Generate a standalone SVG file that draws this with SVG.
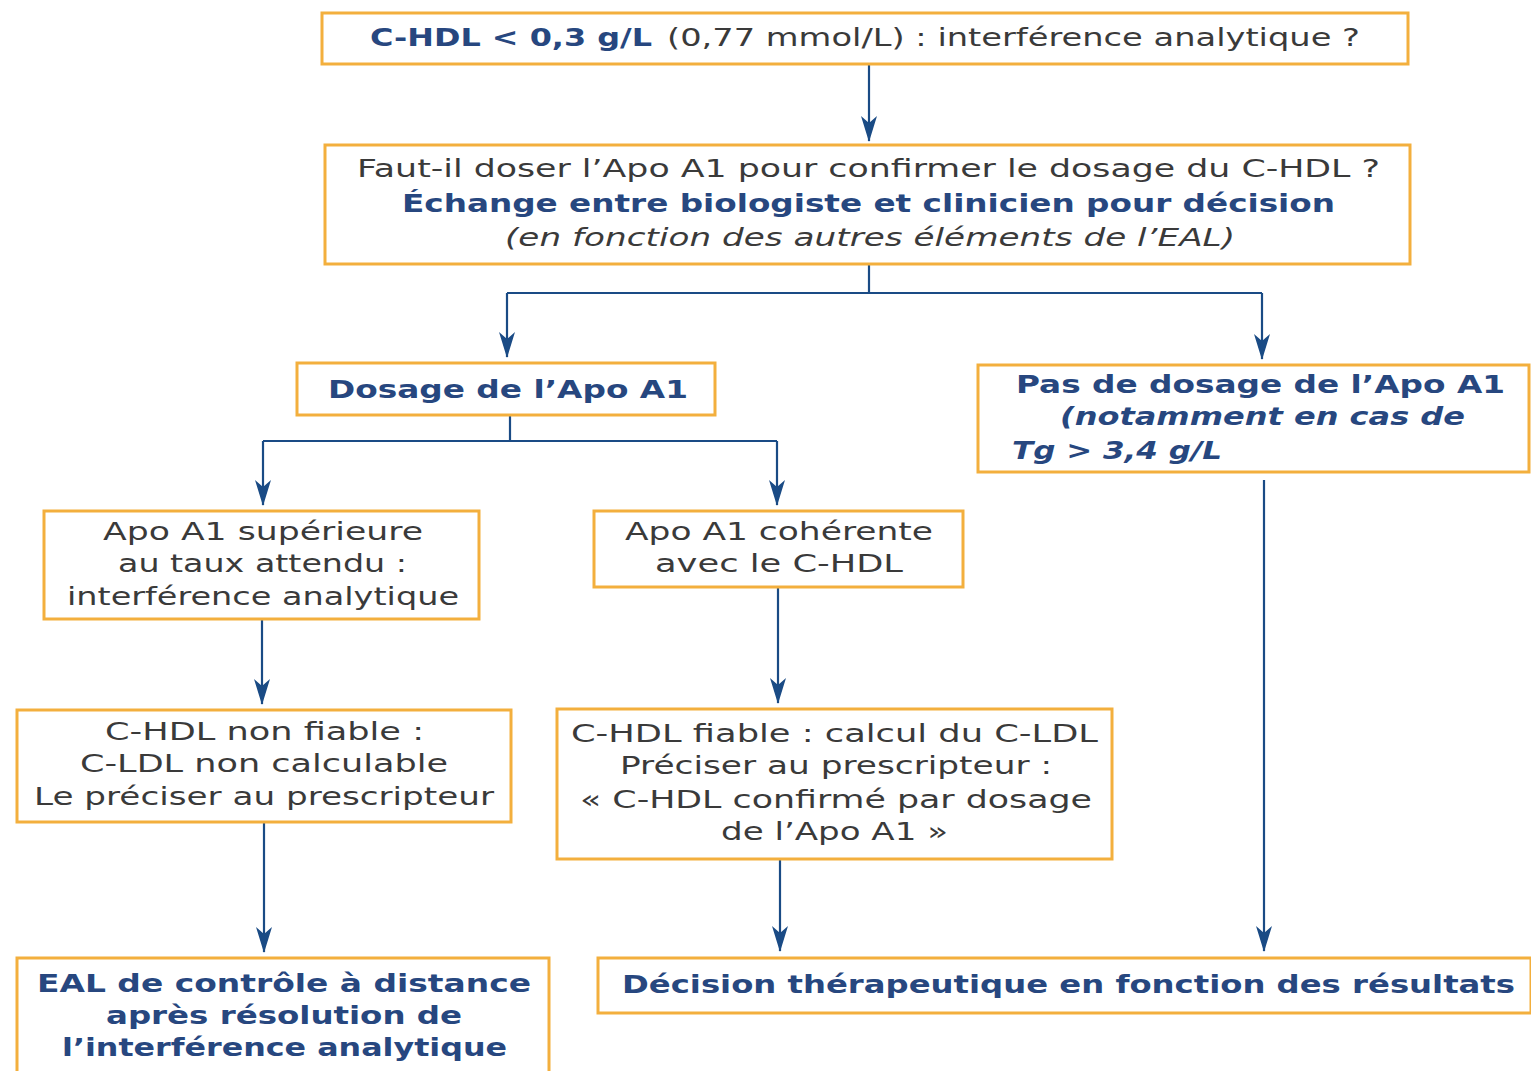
<svg xmlns="http://www.w3.org/2000/svg" width="1531" height="1071" viewBox="0 0 1531 1071">
<style>
.box{fill:#ffffff;stroke:#F3AF3D;stroke-width:3}
.t{font-family:"DejaVu Sans","Liberation Sans",Arial,sans-serif;font-size:25px;fill:#3a3a3a}
.b{font-weight:bold;fill:#27477F}
.i{font-style:italic}
.con{fill:none;stroke:#1A4B85;stroke-width:2.2}
</style>
<defs>
<marker id="ah" markerUnits="userSpaceOnUse" markerWidth="26" markerHeight="16" refX="25" refY="8" orient="auto" overflow="visible">
<path d="M0,0 L26,8 L0,16 L7,8 z" fill="#1A4B85"/>
</marker>
</defs>
<rect width="1531" height="1071" fill="#ffffff"/>
<g id="connectors">
<path class="con" d="M869,65 V141" marker-end="url(#ah)"/>
<path class="con" d="M869,264 V293 M507,293 H1262"/>
<path class="con" d="M507,293 V357" marker-end="url(#ah)"/>
<path class="con" d="M1262,293 V359" marker-end="url(#ah)"/>
<path class="con" d="M510,415 V441 M263,441 H777"/>
<path class="con" d="M263,441 V505" marker-end="url(#ah)"/>
<path class="con" d="M777,441 V505" marker-end="url(#ah)"/>
<path class="con" d="M262,619 V704" marker-end="url(#ah)"/>
<path class="con" d="M778,587 V703" marker-end="url(#ah)"/>
<path class="con" d="M264,822 V952" marker-end="url(#ah)"/>
<path class="con" d="M780,859 V951" marker-end="url(#ah)"/>
<path class="con" d="M1264,480 V951" marker-end="url(#ah)"/>
</g>
<g id="n1">
<rect class="box" x="322" y="13" width="1086" height="51"/>
<text class="t b" x="370" y="46" textLength="282" lengthAdjust="spacingAndGlyphs">C-HDL &lt; 0,3 g/L</text>
<text class="t" x="667" y="46" textLength="693" lengthAdjust="spacingAndGlyphs">(0,77 mmol/L) : interférence analytique ?</text>
</g>
<g id="n2">
<rect class="box" x="325" y="145" width="1085" height="119"/>
<text class="t" x="357" y="177" textLength="1023" lengthAdjust="spacingAndGlyphs">Faut-il doser l’Apo A1 pour confirmer le dosage du C-HDL ?</text>
<text class="t b" x="402" y="212" textLength="933" lengthAdjust="spacingAndGlyphs">Échange entre biologiste et clinicien pour décision</text>
<text class="t i" x="505" y="246" textLength="730" lengthAdjust="spacingAndGlyphs">(en fonction des autres éléments de l’EAL)</text>
</g>
<g id="n3">
<rect class="box" x="297" y="363" width="418" height="52"/>
<text class="t b" x="328" y="398" textLength="360" lengthAdjust="spacingAndGlyphs">Dosage de l’Apo A1</text>
</g>
<g id="n4">
<rect class="box" x="978" y="365" width="551" height="107"/>
<text class="t b" x="1016" y="393" textLength="489" lengthAdjust="spacingAndGlyphs">Pas de dosage de l’Apo A1</text>
<text class="t b i" x="1060" y="425" textLength="405" lengthAdjust="spacingAndGlyphs">(notamment en cas de</text>
<text class="t b i" x="1012" y="459" textLength="210" lengthAdjust="spacingAndGlyphs">Tg &gt; 3,4 g/L</text>
</g>
<g id="n5">
<rect class="box" x="44" y="511" width="435" height="108"/>
<text class="t" x="103" y="540" textLength="320" lengthAdjust="spacingAndGlyphs">Apo A1 supérieure</text>
<text class="t" x="118" y="572" textLength="289" lengthAdjust="spacingAndGlyphs">au taux attendu :</text>
<text class="t" x="67" y="605" textLength="392" lengthAdjust="spacingAndGlyphs">interférence analytique</text>
</g>
<g id="n6">
<rect class="box" x="594" y="511" width="369" height="76"/>
<text class="t" x="625" y="540" textLength="308" lengthAdjust="spacingAndGlyphs">Apo A1 cohérente</text>
<text class="t" x="655" y="572" textLength="248" lengthAdjust="spacingAndGlyphs">avec le C-HDL</text>
</g>
<g id="n7">
<rect class="box" x="17" y="710" width="494" height="112"/>
<text class="t" x="105" y="740" textLength="319" lengthAdjust="spacingAndGlyphs">C-HDL non fiable :</text>
<text class="t" x="80" y="772" textLength="368" lengthAdjust="spacingAndGlyphs">C-LDL non calculable</text>
<text class="t" x="34" y="805" textLength="460" lengthAdjust="spacingAndGlyphs">Le préciser au prescripteur</text>
</g>
<g id="n8">
<rect class="box" x="557" y="709" width="555" height="150"/>
<text class="t" x="571" y="742" textLength="527" lengthAdjust="spacingAndGlyphs">C-HDL fiable : calcul du C-LDL</text>
<text class="t" x="620" y="774" textLength="432" lengthAdjust="spacingAndGlyphs">Préciser au prescripteur :</text>
<text class="t" x="580" y="808" textLength="512" lengthAdjust="spacingAndGlyphs">« C-HDL confirmé par dosage</text>
<text class="t" x="721" y="840" textLength="227" lengthAdjust="spacingAndGlyphs">de l’Apo A1 »</text>
</g>
<g id="n9">
<rect class="box" x="17" y="958" width="532" height="125"/>
<text class="t b" x="37" y="992" textLength="494" lengthAdjust="spacingAndGlyphs">EAL de contrôle à distance</text>
<text class="t b" x="106" y="1024" textLength="356" lengthAdjust="spacingAndGlyphs">après résolution de</text>
<text class="t b" x="62" y="1056" textLength="445" lengthAdjust="spacingAndGlyphs">l’interférence analytique</text>
</g>
<g id="n10">
<rect class="box" x="598" y="958" width="933" height="55"/>
<text class="t b" x="622" y="993" textLength="893" lengthAdjust="spacingAndGlyphs">Décision thérapeutique en fonction des résultats</text>
</g>
</svg>
